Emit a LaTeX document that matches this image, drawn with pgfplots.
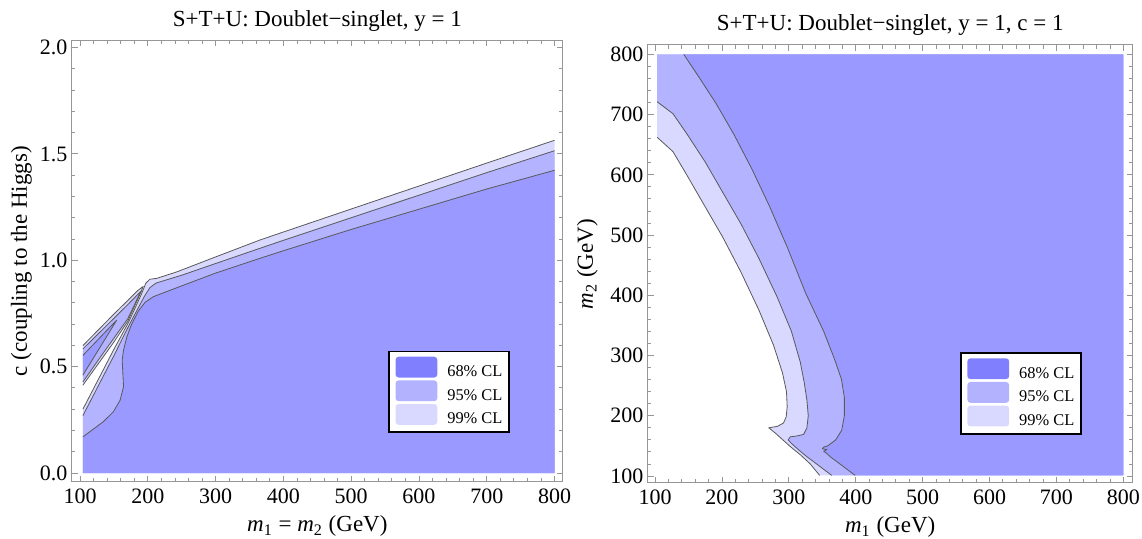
\documentclass[border=0pt]{standalone}
\usepackage{fontspec}
\setmainfont{Liberation Serif}
\usepackage{pgfplots}
\pgfplotsset{compat=1.18}

% contour fills
\definecolor{cl68}{RGB}{153,153,255}
\definecolor{cl95}{RGB}{179,179,255}
\definecolor{cl99}{RGB}{217,217,255}
% legend swatches
\definecolor{lg68}{RGB}{128,128,255}
\definecolor{lg95}{RGB}{178,178,255}
\definecolor{lg99}{RGB}{217,217,255}
\definecolor{framegray}{RGB}{150,150,150}

\pgfplotsset{
  every axis title/.style={at={(0.5,1)}, anchor=base, yshift=7.2pt,
    font=\fontsize{11.5}{13}\selectfont},
  clpanel/.style={
    scale only axis,
    axis line style={framegray, line width=0.5pt},
    tick style={framegray, line width=0.45pt},
    major tick length=3pt,
    minor tick length=1.8pt,
    tick align=inside,
    xtick pos=both, ytick pos=both,
    minor x tick num=4, minor y tick num=4,
    tick label style={font=\fontsize{11}{13}\selectfont, black},
    yticklabel style={inner xsep=2pt},
    /pgf/number format/assume math mode=true,
    label style={font=\fontsize{11.5}{13}\selectfont},
    xlabel style={at={(axis description cs:0.5,0)}, anchor=base, yshift=-25pt},
    xtick={100,200,...,800},
    no markers,
    legend cell align=left,
    legend style={
      draw=black, line width=0.9pt, fill=white,
      inner xsep=3.3pt, inner ysep=2.6pt,
      font=\fontsize{8.2}{9}\selectfont,
      row sep=0.4pt,
      nodes={inner sep=0pt},
      /tikz/every odd column/.append style={column sep=5pt},
    },
  },
  cline/.style={black!65, line width=0.4pt, line join=round},
  sw68/.style={legend image code/.code={\fill[lg68, rounded corners=1.2pt] (0pt,-2pt) rectangle (20pt,7.5pt);}},
  sw95/.style={legend image code/.code={\fill[lg95, rounded corners=1.2pt] (0pt,-2pt) rectangle (20pt,7.5pt);}},
  sw99/.style={legend image code/.code={\fill[lg99, rounded corners=1.2pt] (0pt,-2pt) rectangle (20pt,7.5pt);}},
}

\begin{document}
\begin{tikzpicture}
\path[use as bounding box] (0,0) rectangle (571pt,269.5pt);

% ---------------- c versus m1 = m2 ----------------
\begin{axis}[clpanel,
  at={(35.85pt,28.5pt)}, anchor=south west,
  width=245.65pt, height=220.75pt,
  xmin=87.5, xmax=812.5, ymin=-0.042, ymax=2.033,
  ytick={0,0.5,1,1.5,2}, yticklabels={0.0,0.5,1.0,1.5,2.0},
  title={S+T+U: Doublet−singlet, y = 1},
  xlabel={\textit{m}\textsubscript{1} = \textit{m}\textsubscript{2} (GeV)},
  ylabel={c (coupling to the Higgs)},
  ylabel style={at={(axis description cs:-0.091,0.5)}, anchor=base},
  legend style={at={(0.892,0.111)}, anchor=south east},
]
% 99% CL region, right part
\addplot[fill=cl99, draw=none, forget plot] coordinates {
  (104,0) (800,0) (800,1.564) (700,1.457) (600,1.349) (500,1.241) (400,1.133)
  (365,1.095) (300,1.016) (243,0.946) (213,0.915) (203,0.911) (197,0.893)
  (190,0.838) (180,0.768) (170,0.700) (150,0.583) (130,0.460) (104,0.300)};
% 99% CL region, left tongue
\addplot[fill=cl99, draw=none, forget plot] coordinates {
  (104,0.413) (130,0.528) (150,0.617) (170,0.712) (180,0.782) (188,0.838) (193,0.877)
  (185,0.858) (170,0.810) (150,0.748) (130,0.683) (104,0.599)};
% 95% CL region, right part
\addplot[fill=cl95, draw=none, forget plot] coordinates {
  (104,0) (800,0) (800,1.515) (700,1.412) (600,1.306) (500,1.200) (400,1.094)
  (365,1.056) (300,0.985) (250,0.930) (212,0.893) (203,0.872) (195,0.832)
  (185,0.772) (175,0.712) (165,0.650) (150,0.553) (130,0.430) (104,0.270)};
% 95% CL region, left tongue
\addplot[fill=cl95, draw=none, forget plot] coordinates {
  (104,0.428) (130,0.546) (150,0.635) (170,0.724) (180,0.790) (188,0.845) (190,0.856)
  (170,0.791) (150,0.728) (130,0.665) (104,0.583)};
% 68% CL region
\addplot[fill=cl68, draw=none, forget plot] coordinates {
  (104,0) (800,0) (800,1.423) (700,1.335) (600,1.240) (500,1.145) (400,1.045)
  (365,1.009) (300,0.940) (250,0.880) (208,0.829) (196,0.803) (186,0.762)
  (176,0.700) (169,0.641) (164,0.578) (162,0.531) (163,0.469) (164,0.406)
  (159,0.343) (149,0.288) (134,0.241) (104,0.170)};
\addplot[fill=cl68, draw=none, forget plot] coordinates {
  (104,0.460) (154,0.719) (104,0.553)};
% contour lines
\addplot[cline, forget plot] coordinates {
  (104,0.300) (130,0.460) (150,0.583) (170,0.700) (180,0.768) (190,0.838)
  (197,0.893) (203,0.911) (213,0.915) (243,0.946) (300,1.016) (365,1.095)
  (400,1.133) (500,1.241) (600,1.349) (700,1.457) (800,1.564)};
\addplot[cline, forget plot] coordinates {
  (104,0.413) (130,0.528) (150,0.617) (170,0.712) (180,0.782) (188,0.838) (193,0.877)
  (185,0.858) (170,0.810) (150,0.748) (130,0.683) (104,0.599)};
\addplot[cline, forget plot] coordinates {
  (104,0.270) (130,0.430) (150,0.553) (165,0.650) (175,0.712) (185,0.772)
  (195,0.832) (203,0.872) (212,0.893) (250,0.930) (300,0.985) (365,1.056)
  (400,1.094) (500,1.200) (600,1.306) (700,1.412) (800,1.515)};
\addplot[cline, forget plot] coordinates {
  (104,0.428) (130,0.546) (150,0.635) (170,0.724) (180,0.790) (188,0.845) (190,0.856)
  (170,0.791) (150,0.728) (130,0.665) (104,0.583)};
\addplot[cline, forget plot] coordinates {
  (104,0.170) (134,0.241) (149,0.288) (159,0.343) (164,0.406) (163,0.469)
  (162,0.531) (164,0.578) (169,0.641) (176,0.700) (186,0.762) (196,0.803)
  (208,0.829) (250,0.880) (300,0.940) (365,1.009) (400,1.045) (500,1.145)
  (600,1.240) (700,1.335) (800,1.423)};
\addplot[cline, forget plot] coordinates {
  (104,0.460) (154,0.719) (104,0.553)};
\addlegendimage{sw68}\addlegendentry{68\% CL}
\addlegendimage{sw95}\addlegendentry{95\% CL}
\addlegendimage{sw99}\addlegendentry{99\% CL}
\end{axis}

% ---------------- m2 versus m1 at c = 1 ----------------
\begin{axis}[clpanel,
  at={(323.85pt,28pt)}, anchor=south west,
  width=242.5pt, height=219pt,
  xmin=89, xmax=814, ymin=88.4, ymax=815.6,
  ytick={100,200,...,800},
  title={S+T+U: Doublet−singlet, y = 1, c = 1},
  xlabel={\textit{m}\textsubscript{1} (GeV)},
  ylabel={\textit{m}\textsubscript{2} (GeV)},
  ylabel style={at={(axis description cs:-0.1128,0.5)}, anchor=base},
  legend style={at={(0.895,0.1105)}, anchor=south east},
]
% 99% CL region
\addplot[fill=cl99, draw=none, forget plot] coordinates {
  (103,800) (800,800) (800,101) (346,101) (332,120) (317.5,134.9) (302,149)
  (288,163) (280,171) (270,180) (283,182.5) (292,188) (296,198) (297.5,215)
  (296.5,240) (290.3,271.9) (276.9,317.7) (255.4,375) (228.6,438) (201.8,495.3)
  (175,546.8) (148.2,598.4) (126.8,638.5) (103,662.5)};
% 95% CL region
\addplot[fill=cl95, draw=none, forget plot] coordinates {
  (103,800) (800,800) (800,101) (364,101) (345,117) (327,132) (315,143)
  (304,154) (299,160) (302,165) (312,166.5) (322,169) (327,180) (329,200)
  (327,226) (323,255) (317.1,289) (303.7,340.6) (282.2,397.9) (255.4,460.9)
  (228.6,518.2) (201.8,569.7) (175,621.3) (148.2,667) (126.8,701.5) (103,721.5)};
% 68% CL region
\addplot[fill=cl68, draw=none, forget plot] coordinates {
  (142.9,800) (800,800) (800,101) (399,101) (380,117) (363,131) (356,138)
  (352,141) (357,144) (350,145) (352,148) (358,150) (370,160) (379,176)
  (383,200) (383,230) (378.7,260.4) (368,294.8) (351.9,340.6) (325.1,403.6)
  (298.3,478.1) (271.5,546.8) (244.7,609.8) (217.9,667.1) (191.1,718.7)
  (164.3,764.5)};
% contour lines
\addplot[cline, forget plot] coordinates {
  (103,662.5) (126.8,638.5) (148.2,598.4) (175,546.8) (201.8,495.3) (228.6,438)
  (255.4,375) (276.9,317.7) (290.3,271.9) (296.5,240) (297.5,215) (296,198)
  (292,188) (283,182.5) (270,180) (280,171) (288,163) (302,149) (317.5,134.9)
  (332,120) (346,101)};
\addplot[cline, forget plot] coordinates {
  (103,721.5) (126.8,701.5) (148.2,667) (175,621.3) (201.8,569.7) (228.6,518.2)
  (255.4,460.9) (282.2,397.9) (303.7,340.6) (317.1,289) (323,255) (327,226)
  (329,200) (327,180) (322,169) (312,166.5) (302,165) (299,160) (304,154)
  (315,143) (327,132) (345,117) (364,101)};
\addplot[cline, forget plot] coordinates {
  (142.9,800) (164.3,764.5) (191.1,718.7) (217.9,667.1) (244.7,609.8)
  (271.5,546.8) (298.3,478.1) (325.1,403.6) (351.9,340.6) (368,294.8)
  (378.7,260.4) (383,230) (383,200) (379,176) (370,160) (358,150) (352,148)
  (350,145) (357,144) (352,141) (356,138) (363,131) (380,117) (399,101)};
\addlegendimage{sw68}\addlegendentry{68\% CL}
\addlegendimage{sw95}\addlegendentry{95\% CL}
\addlegendimage{sw99}\addlegendentry{99\% CL}
\end{axis}
\end{tikzpicture}
\end{document}
